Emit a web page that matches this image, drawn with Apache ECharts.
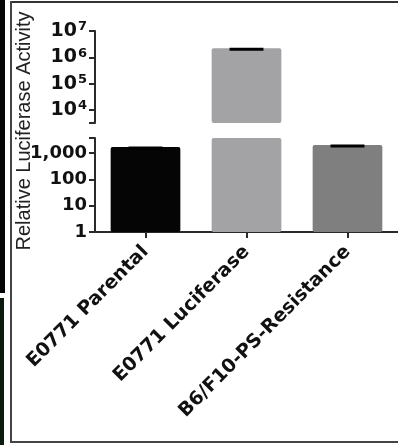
<!DOCTYPE html>
<html><head><meta charset="utf-8">
<script src="https://cdn.jsdelivr.net/npm/echarts@6/dist/echarts.min.js"></script>
<style>html,body{margin:0;padding:0;background:#fff}#c{width:398px;height:445px}</style>
</head><body><div id="c"></div>
<script>
// ---- data ----
const categories = ['E0771 Parental', 'E0771 Luciferase', 'B6/F10-PS-Resistance'];
const meanValues = [1690, 2200000, 2000];
const errorValues = [20, 30000, 30];
const barColors = ['#050505', '#a3a3a5', '#7f7f7f'];
const lowerTickLabels = ['1', '10', '100', '1,000'];
const upperTickBase = '10';
const lowerRange = [1, 3715];
const upperRange = [3206, 10000000];
const yTitle = 'Relative Luciferase Activity';

// ---- helpers ----
function powerIndex(v) {
  const l = Math.log10(v);
  const k = Math.round(l);
  return Math.abs(l - k) < 1e-6 ? k : null;
}
const axisColor = '#2a2a2a';
const tickFont = 'DejaVu Sans';

function inRange(v, r) { return v >= r[0] && v <= r[1]; }

function errData(range) {
  const out = [];
  meanValues.forEach((m, i) => {
    if (inRange(m, range)) out.push([i, m, errorValues[i]]);
  });
  return out;
}

function errRender(params, api) {
  const i = api.value(0);
  const m = api.value(1);
  const e = api.value(2);
  const pTop = api.coord([i, m + e]);
  const pMid = api.coord([i, m]);
  const half = api.size([1, 0])[0] * 0.168;
  const yc = pTop[1] + 1.2;
  return {
    type: 'group',
    children: [
      { type: 'line', shape: { x1: pMid[0], y1: pMid[1], x2: pTop[0], y2: yc }, style: { stroke: '#000', lineWidth: 2 } },
      { type: 'line', shape: { x1: pTop[0] - half, y1: yc, x2: pTop[0] + half, y2: yc }, style: { stroke: '#000', lineWidth: 3 } }
    ]
  };
}

const chart = echarts.init(document.getElementById('c'), null, { renderer: 'canvas' });

const option = {
  animation: false,
  backgroundColor: '#fff',
  grid: [
    { left: 95, width: 305, top: 31, height: 92 },
    { left: 95, width: 305, top: 138, height: 94 }
  ],
  xAxis: [
    { gridIndex: 0, type: 'category', data: categories, show: false },
    {
      gridIndex: 1, type: 'category', data: categories,
      axisLine: { show: true, lineStyle: { color: axisColor, width: 2 } },
      axisTick: { show: true, alignWithLabel: true, length: 6, lineStyle: { color: axisColor, width: 2 } },
      axisLabel: {
        rotate: 45, interval: 0, margin: 17,
        fontFamily: tickFont, fontWeight: 'bold', fontSize: 19, color: '#111'
      }
    }
  ],
  yAxis: [
    {
      gridIndex: 0, type: 'log', logBase: 10, min: upperRange[0], max: upperRange[1],
      splitLine: { show: false },
      axisLine: { show: true, lineStyle: { color: axisColor, width: 2 } },
      axisTick: { show: true, length: 6, lineStyle: { color: axisColor, width: 2 } },
      axisLabel: {
        margin: 8,
        formatter: function (v) {
          const k = powerIndex(v);
          return k === null ? '' : '{b|' + upperTickBase + '}{s|' + k + '}';
        },
        rich: {
          b: { fontFamily: tickFont, fontWeight: 'bold', fontSize: 19, color: '#111', lineHeight: 21 },
          s: { fontFamily: tickFont, fontWeight: 'bold', fontSize: 13, color: '#111', lineHeight: 14, verticalAlign: 'top', padding: [0, 0, 0, 1] }
        }
      }
    },
    {
      gridIndex: 1, type: 'log', logBase: 10, min: lowerRange[0], max: lowerRange[1],
      splitLine: { show: false },
      axisLine: { show: true, lineStyle: { color: axisColor, width: 2 } },
      axisTick: { show: true, length: 6, lineStyle: { color: axisColor, width: 2 } },
      axisLabel: {
        margin: 8,
        fontFamily: tickFont, fontWeight: 'bold', fontSize: 18, color: '#111',
        formatter: function (v) {
          const k = powerIndex(v);
          return (k === null || lowerTickLabels[k] === undefined) ? '' : lowerTickLabels[k];
        }
      }
    }
  ],
  series: [
    {
      type: 'bar', xAxisIndex: 0, yAxisIndex: 0, barWidth: '69%', clip: true,
      data: meanValues.map((v, i) => inRange(v, upperRange) ? { value: v, itemStyle: { color: barColors[i] } } : '-'),
      itemStyle: { borderRadius: 2 }
    },
    {
      type: 'bar', xAxisIndex: 1, yAxisIndex: 1, barWidth: '69%', clip: true,
      data: meanValues.map((v, i) => ({ value: v, itemStyle: { color: barColors[i] } })),
      itemStyle: { borderRadius: 2 }
    },
    { type: 'custom', xAxisIndex: 0, yAxisIndex: 0, clip: false, renderItem: errRender, data: errData(upperRange), z: 5 },
    { type: 'custom', xAxisIndex: 1, yAxisIndex: 1, clip: false, renderItem: errRender, data: errData(lowerRange), z: 5 }
  ],
  graphic: [
    { type: 'rect', left: 0, top: 0, shape: { width: 5, height: 293 }, style: { fill: '#050505' }, silent: true },
    { type: 'rect', left: 0, top: 298, shape: { width: 4, height: 147 }, style: { fill: '#0c1a0e' }, silent: true },
    { type: 'line', shape: { x1: 11, y1: 2, x2: 398, y2: 2 }, style: { stroke: '#333', lineWidth: 2 }, silent: true },
    { type: 'line', shape: { x1: 11, y1: 1, x2: 11, y2: 443 }, style: { stroke: '#444', lineWidth: 2 }, silent: true },
    { type: 'line', shape: { x1: 11, y1: 442, x2: 398, y2: 442 }, style: { stroke: '#444', lineWidth: 2 }, silent: true },
    {
      type: 'text', x: 24, y: 131, rotation: Math.PI / 2,
      style: { text: yTitle, fontFamily: 'Liberation Sans', fontSize: 20, fill: '#222', align: 'center', verticalAlign: 'middle' },
      silent: true
    }
  ]
};
chart.setOption(option);
</script></body></html>
